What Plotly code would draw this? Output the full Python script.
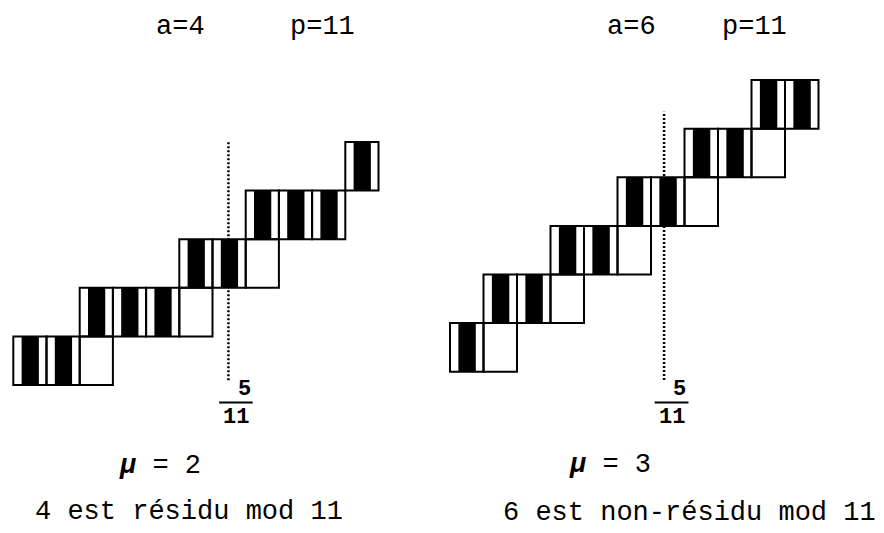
import plotly.graph_objects as go

# ---------------- data ----------------
p = 11
a_values = [4, 6]
mu_values = [2, 3]
verdicts = ["4 est résidu mod 11", "6 est non-résidu mod 11"]
# row (step) of each striped residue cell 0..p-1
left_rows = [0, 0, 1, 1, 1, 2, 2, 3, 3, 3, 4]
right_rows = [0, 1, 1, 2, 2, 3, 3, 4, 4, 5, 5]
# empty cells (row, column)
left_empty = [(0, 2), (1, 5), (2, 7)]
right_empty = [(0, 1), (1, 3), (2, 5), (3, 7), (4, 9)]
# position of dotted marker (cell units)
marker_x = [6.48, 6.39]
marker_span = [(0.1, 5.0), (-0.17, 5.35)]
frac_num, frac_den = "5", "11"

# ---------------- layout / style ----------------
PAGE_W, PAGE_H = 884, 533
OFF = 8                      # browser body margin
W, H = PAGE_W - OFF, PAGE_H - OFF
STRIPE_L, STRIPE_R = 0.25, 0.77
MONO = "Liberation Mono"
LW = 2

# panel geometry in page pixels
geo = [
    dict(d0=OFF, d1=442, cx=13.3, cw=33.2, by=385.0, rh=48.6),
    dict(d0=442, d1=PAGE_W, cx=450.0, cw=33.5, by=371.7, rh=48.6),
]

def px_x(xpx):
    return (xpx - OFF) / W

def px_y(ypx):
    return 1 - (ypx - OFF) / H

fig = go.Figure()
shapes = []
annotations = []

panels = [
    dict(rows=left_rows, empty=left_empty, xr="x", yr="y"),
    dict(rows=right_rows, empty=right_empty, xr="x2", yr="y2"),
]

for i, pan in enumerate(panels):
    xr, yr = pan["xr"], pan["yr"]
    for col, row in enumerate(pan["rows"]):
        shapes.append(dict(type="rect", xref=xr, yref=yr,
                           x0=col + STRIPE_L, x1=col + STRIPE_R, y0=row, y1=row + 1,
                           fillcolor="black", line=dict(width=0), layer="above"))
    y0, y1 = marker_span[i]
    shapes.append(dict(type="line", xref=xr, yref=yr, x0=marker_x[i], x1=marker_x[i],
                       y0=y0, y1=y1, line=dict(color="black", width=2.5, dash="2px,2px"),
                       layer="below"))
    for col, row in enumerate(pan["rows"]):
        shapes.append(dict(type="rect", xref=xr, yref=yr,
                           x0=col, x1=col + 1, y0=row, y1=row + 1,
                           line=dict(color="black", width=LW), layer="above"))
    for row, col in pan["empty"]:
        shapes.append(dict(type="rect", xref=xr, yref=yr,
                           x0=col, x1=col + 1, y0=row, y1=row + 1,
                           line=dict(color="black", width=LW), layer="above"))
    mx = marker_x[i]
    shapes.append(dict(type="line", xref=xr, yref="paper", x0=mx - 0.28, x1=mx + 0.73,
                       y0=px_y(402.5), y1=px_y(402.5),
                       line=dict(color="black", width=2)))
    annotations.append(dict(xref=xr, yref="paper", x=mx + 0.47, y=px_y(389),
                            text="<b>" + frac_num + "</b>", showarrow=False, yanchor="middle",
                            font=dict(family=MONO, size=22, color="black")))
    annotations.append(dict(xref=xr, yref="paper", x=mx + 0.24, y=px_y(417),
                            text="<b>" + frac_den + "</b>", showarrow=False, yanchor="middle",
                            font=dict(family=MONO, size=22, color="black")))

def ann(text, xpx, ypx, xanchor="center", size=27):
    annotations.append(dict(xref="paper", yref="paper", x=px_x(xpx), y=px_y(ypx),
                            text=text, showarrow=False, xanchor=xanchor, yanchor="middle",
                            font=dict(family=MONO, size=size, color="black")))

ann(f"a={a_values[0]}", 180, 27)
ann(f"p={p}", 322, 27)
ann(f"a={a_values[1]}", 631, 27)
ann(f"p={p}", 754, 27)
ann(f"<b><i>μ</i></b> = {mu_values[0]}", 160, 466)
ann(f"<b><i>μ</i></b> = {mu_values[1]}", 610, 465)
ann(verdicts[0], 33, 512, xanchor="left")
ann(verdicts[1], 501, 513, xanchor="left")

def axes_for(g):
    dw = g["d1"] - g["d0"]
    x_lo = -(g["cx"] - g["d0"]) / g["cw"]
    x_hi = x_lo + dw / g["cw"]
    y_lo = (g["by"] - PAGE_H) / g["rh"]
    y_hi = (g["by"] - OFF) / g["rh"]
    return [px_x(g["d0"]), px_x(g["d1"])], [x_lo, x_hi], [y_lo, y_hi]

ax = dict(visible=False, showgrid=False, zeroline=False, fixedrange=True)
d1, xr1, yr1 = axes_for(geo[0])
d2, xr2, yr2 = axes_for(geo[1])
fig.update_layout(
    width=W, height=H,
    margin=dict(l=0, r=0, t=0, b=0),
    paper_bgcolor="white", plot_bgcolor="white",
    showlegend=False,
    shapes=shapes, annotations=annotations,
    xaxis=dict(ax, domain=d1, range=xr1),
    yaxis=dict(ax, domain=[0, 1], range=yr1),
    xaxis2=dict(ax, domain=d2, range=xr2, anchor="y2"),
    yaxis2=dict(ax, domain=[0, 1], range=yr2, anchor="x2"),
)
fig.add_trace(go.Scatter(x=[0], y=[0], xaxis="x", yaxis="y", mode="markers",
                         marker=dict(opacity=0), hoverinfo="skip"))
fig.add_trace(go.Scatter(x=[0], y=[0], xaxis="x2", yaxis="y2", mode="markers",
                         marker=dict(opacity=0), hoverinfo="skip"))

fig.write_html("out.html")
